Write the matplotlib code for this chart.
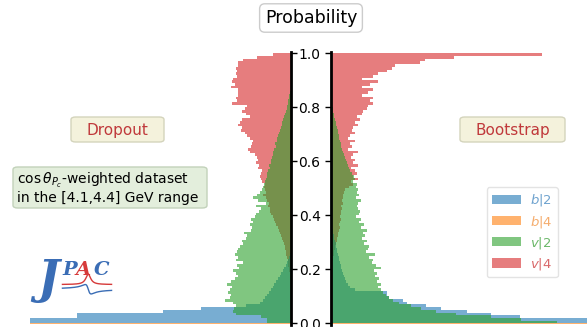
import numpy as np
import matplotlib
matplotlib.use('Agg')
import matplotlib.pyplot as plt
from matplotlib.patches import FancyBboxPatch

# bin lower edges, width 0.01 (bin 0 = [0.00, 0.01))
bins = np.linspace(0, 1, 101)[:-1]
width = 0.01

# Dropout side (left), counts per bin, bin 0 first
drop_b2 = [400, 261, 214, 214, 128, 90, 45, 31, 28, 26,
           24, 22, 20, 18, 17, 15, 13, 11, 10, 8,
           7, 5, 4, 3, 2, 1, 0, 0, 0, 0] + [0] * 70
drop_b4 = [400] + [0] * 99
drop_v2 = [24, 24, 30, 55, 58, 57, 55, 58, 66, 61,
           60, 63, 61, 59, 64, 60, 56, 53, 55, 58,
           52, 54, 48, 55, 53, 56, 54, 53, 51, 48,
           49, 45, 44, 47, 40, 39, 41, 38, 40, 36,
           35, 32, 30, 35, 25, 33, 38, 34, 31, 29,
           28, 27, 26, 25, 24, 24, 23, 21, 22, 20,
           20, 19, 18, 18, 17, 15, 16, 14, 14, 13,
           12, 11, 10, 9, 9, 8, 7, 6, 5, 4,
           4, 3, 3, 2, 2, 1, 0, 0, 0, 0] + [0] * 10
drop_v4 = [0] * 10 + \
          [0, 0, 0, 0, 0, 0, 1, 1, 1, 2,
           2, 3, 3, 3, 4, 5, 5, 6, 6, 7,
           8, 9, 10, 11, 12, 13, 15, 16, 17, 18,
           20, 21, 21, 23, 22, 24, 25, 28, 25, 26,
           27, 26, 29, 30, 31, 30, 29, 33, 32, 35,
           33, 34, 36, 41, 43, 40, 39, 38, 41, 44,
           46, 50, 49, 53, 51, 49, 41, 45, 49, 46,
           44, 59, 54, 55, 53, 53, 53, 60, 56, 59,
           58, 54, 55, 54, 55, 53, 53, 48, 34, 18]

# Bootstrap side (right)
boot_b2 = [400, 260, 189, 160, 136, 110, 95, 76, 72, 58,
           56, 56, 24, 19, 17, 15, 14, 13, 12, 11,
           10, 10, 9, 8, 8, 7, 6, 6, 5, 5,
           4, 3, 3, 2, 2, 1, 0, 0, 0, 0] + [0] * 60
boot_b4 = [400] + [0] * 99
boot_v2 = [226, 190, 160, 125, 105, 90, 80, 68, 62, 58,
           55, 52, 50, 47, 50, 46, 48, 44, 46, 43,
           50, 45, 41, 42, 38, 44, 35, 37, 38, 33,
           36, 31, 34, 32, 36, 30, 33, 28, 30, 25,
           28, 29, 27, 26, 27, 30, 25, 28, 26, 27,
           25, 26, 22, 24, 23, 21, 19, 18, 17, 16,
           15, 14, 13, 12, 11, 10, 10, 9, 8, 8,
           7, 7, 6, 5, 5, 4, 3, 3, 2, 2,
           1, 0, 0, 0, 0, 0, 0, 0, 0, 0] + [0] * 10
boot_v4 = [0] * 20 + \
          [0, 1, 1, 2, 2, 3, 3, 4, 4, 5,
           6, 6, 7, 7, 8, 9, 8, 9, 10, 9,
           10, 10, 11, 10, 12, 11, 12, 12, 13, 14,
           18, 22, 20, 27, 22, 26, 24, 20, 27, 22,
           24, 20, 22, 27, 17, 21, 19, 24, 17, 19,
           24, 21, 22, 27, 24, 29, 26, 31, 32, 36,
           37, 42, 39, 42, 31, 37, 42, 31, 39, 47,
           31, 42, 47, 56, 61, 64, 89, 94, 123, 211]

labels = ['$b|2$', '$b|4$', '$v|2$', '$v|4$']
colors = ['tab:blue', 'tab:orange', 'tab:green', 'tab:red']
alpha = 0.6

W, H = 587, 327
fig = plt.figure(figsize=(5.87, 3.27), dpi=100)
ax_l = fig.add_axes([30 / W, 2 / H, 261 / W, 273 / H])
ax_r = fig.add_axes([331 / W, 2 / H, 256 / W, 273 / H])


def draw_side(ax, b2, b4, v2, v4):
    h = {}
    # red first, green last so green sits on top (olive overlaps)
    h[3] = ax.barh(bins, v4, height=width, align='edge', color=colors[3], alpha=alpha)
    h[0] = ax.barh(bins, b2, height=width, align='edge', color=colors[0], alpha=alpha)
    h[1] = ax.barh(bins, b4, height=0.005, align='center', color=colors[1], alpha=alpha)
    h[2] = ax.barh(bins, v2, height=width, align='edge', color=colors[2], alpha=alpha)
    ax.set_ylim(-0.006, 1.005)
    ax.set_xticks([])
    for s in ['top', 'bottom']:
        ax.spines[s].set_visible(False)
    return h


draw_side(ax_l, drop_b2, drop_b4, drop_v2, drop_v4)
hr = draw_side(ax_r, boot_b2, boot_b4, boot_v2, boot_v4)

ax_l.set_xlim(261, 0)
ax_l.spines['left'].set_visible(False)
ax_l.spines['right'].set_linewidth(2)
ax_l.yaxis.tick_right()
ax_l.set_yticks(np.arange(0, 1.01, 0.2))
ax_l.tick_params(axis='y', direction='out', length=4, width=1, labelright=False)

ax_r.set_xlim(0, 256)
ax_r.spines['right'].set_visible(False)
ax_r.spines['left'].set_linewidth(2)
ax_r.set_yticks(np.arange(0, 1.01, 0.2))
ax_r.tick_params(axis='y', direction='out', length=4, width=1, labelsize=10)

# title box
fig.text(311 / W, 1 - 18 / H, 'Probability', ha='center', va='center', fontsize=12.5,
         bbox=dict(boxstyle='round,pad=0.3', fc='white', ec='#cccccc'))


def boxed(x0, y0, x1, y1, fc, ec):
    # rounded box given in pixel coords from the top-left corner
    p = FancyBboxPatch((x0 / W, 1 - y1 / H), (x1 - x0) / W, (y1 - y0) / H,
                       boxstyle='round,pad=0,rounding_size=0.008', transform=fig.transFigure,
                       fc=fc, ec=ec, lw=1)
    fig.patches.append(p)


boxed(71, 117, 164, 142, '#f4f2dc', '#d4d4bc')
fig.text(117.5 / W, 1 - 130 / H, 'Dropout', ha='center', va='center', fontsize=11,
         color='#c0393b')
boxed(460, 117, 565, 142, '#f4f2dc', '#d4d4bc')
fig.text(512.5 / W, 1 - 130 / H, 'Bootstrap', ha='center', va='center', fontsize=11,
         color='#c0393b')

boxed(13, 167, 207, 208, '#e3eedc', '#c2d2ba')
fig.text(17 / W, 1 - 188 / H,
         '$\\cos\\theta_{P_c}$-weighted dataset\nin the [4.1,4.4] GeV range',
         ha='left', va='center', fontsize=10, linespacing=1.05)

# legend
handles = [hr[0], hr[1], hr[2], hr[3]]
leg = fig.legend(handles, labels, loc='upper right', fontsize=9.5,
                 bbox_to_anchor=(558 / W, 1 - 187 / H), borderaxespad=0,
                 handlelength=2.2, labelspacing=0.4, handletextpad=0.7,
                 edgecolor='#dddddd')
text_cols = ['#6fa3cf', '#f5ad6e', '#6cb86a', '#d9696b']
for t, c in zip(leg.get_texts(), text_cols):
    t.set_color(c)

# JPAC logo
fig.text(37 / W, 1 - 293 / H, 'J', fontsize=33, family='DejaVu Serif', style='italic',
         weight='bold', color='#3a6db5', va='baseline')
fig.text(62 / W, 1 - 275 / H, 'P', fontsize=14, family='DejaVu Serif', style='italic',
         weight='bold', color='#3a6db5', va='baseline')
fig.text(76 / W, 1 - 275 / H, 'A', fontsize=14, family='DejaVu Serif', style='italic',
         weight='bold', color='#d63a3a', va='baseline')
fig.text(94 / W, 1 - 275 / H, 'C', fontsize=14, family='DejaVu Serif', style='italic',
         weight='bold', color='#3a6db5', va='baseline')
ax_logo = fig.add_axes([60 / W, 1 - 295 / H, 54 / W, 22 / H])
ax_logo.axis('off')
s = np.linspace(-1, 1, 200)
g = 0.12
bw = 1 / ((s - 0.05) ** 2 + g ** 2)
ax_logo.plot(s, g * g * bw, color='#d63a3a', lw=1)
ax_logo.plot(s, -g * (s - 0.05) * bw * 0.9 - 0.45, color='#3a6db5', lw=1)
ax_logo.set_ylim(-1.0, 1.1)

fig.savefig('out.png', dpi=100)
